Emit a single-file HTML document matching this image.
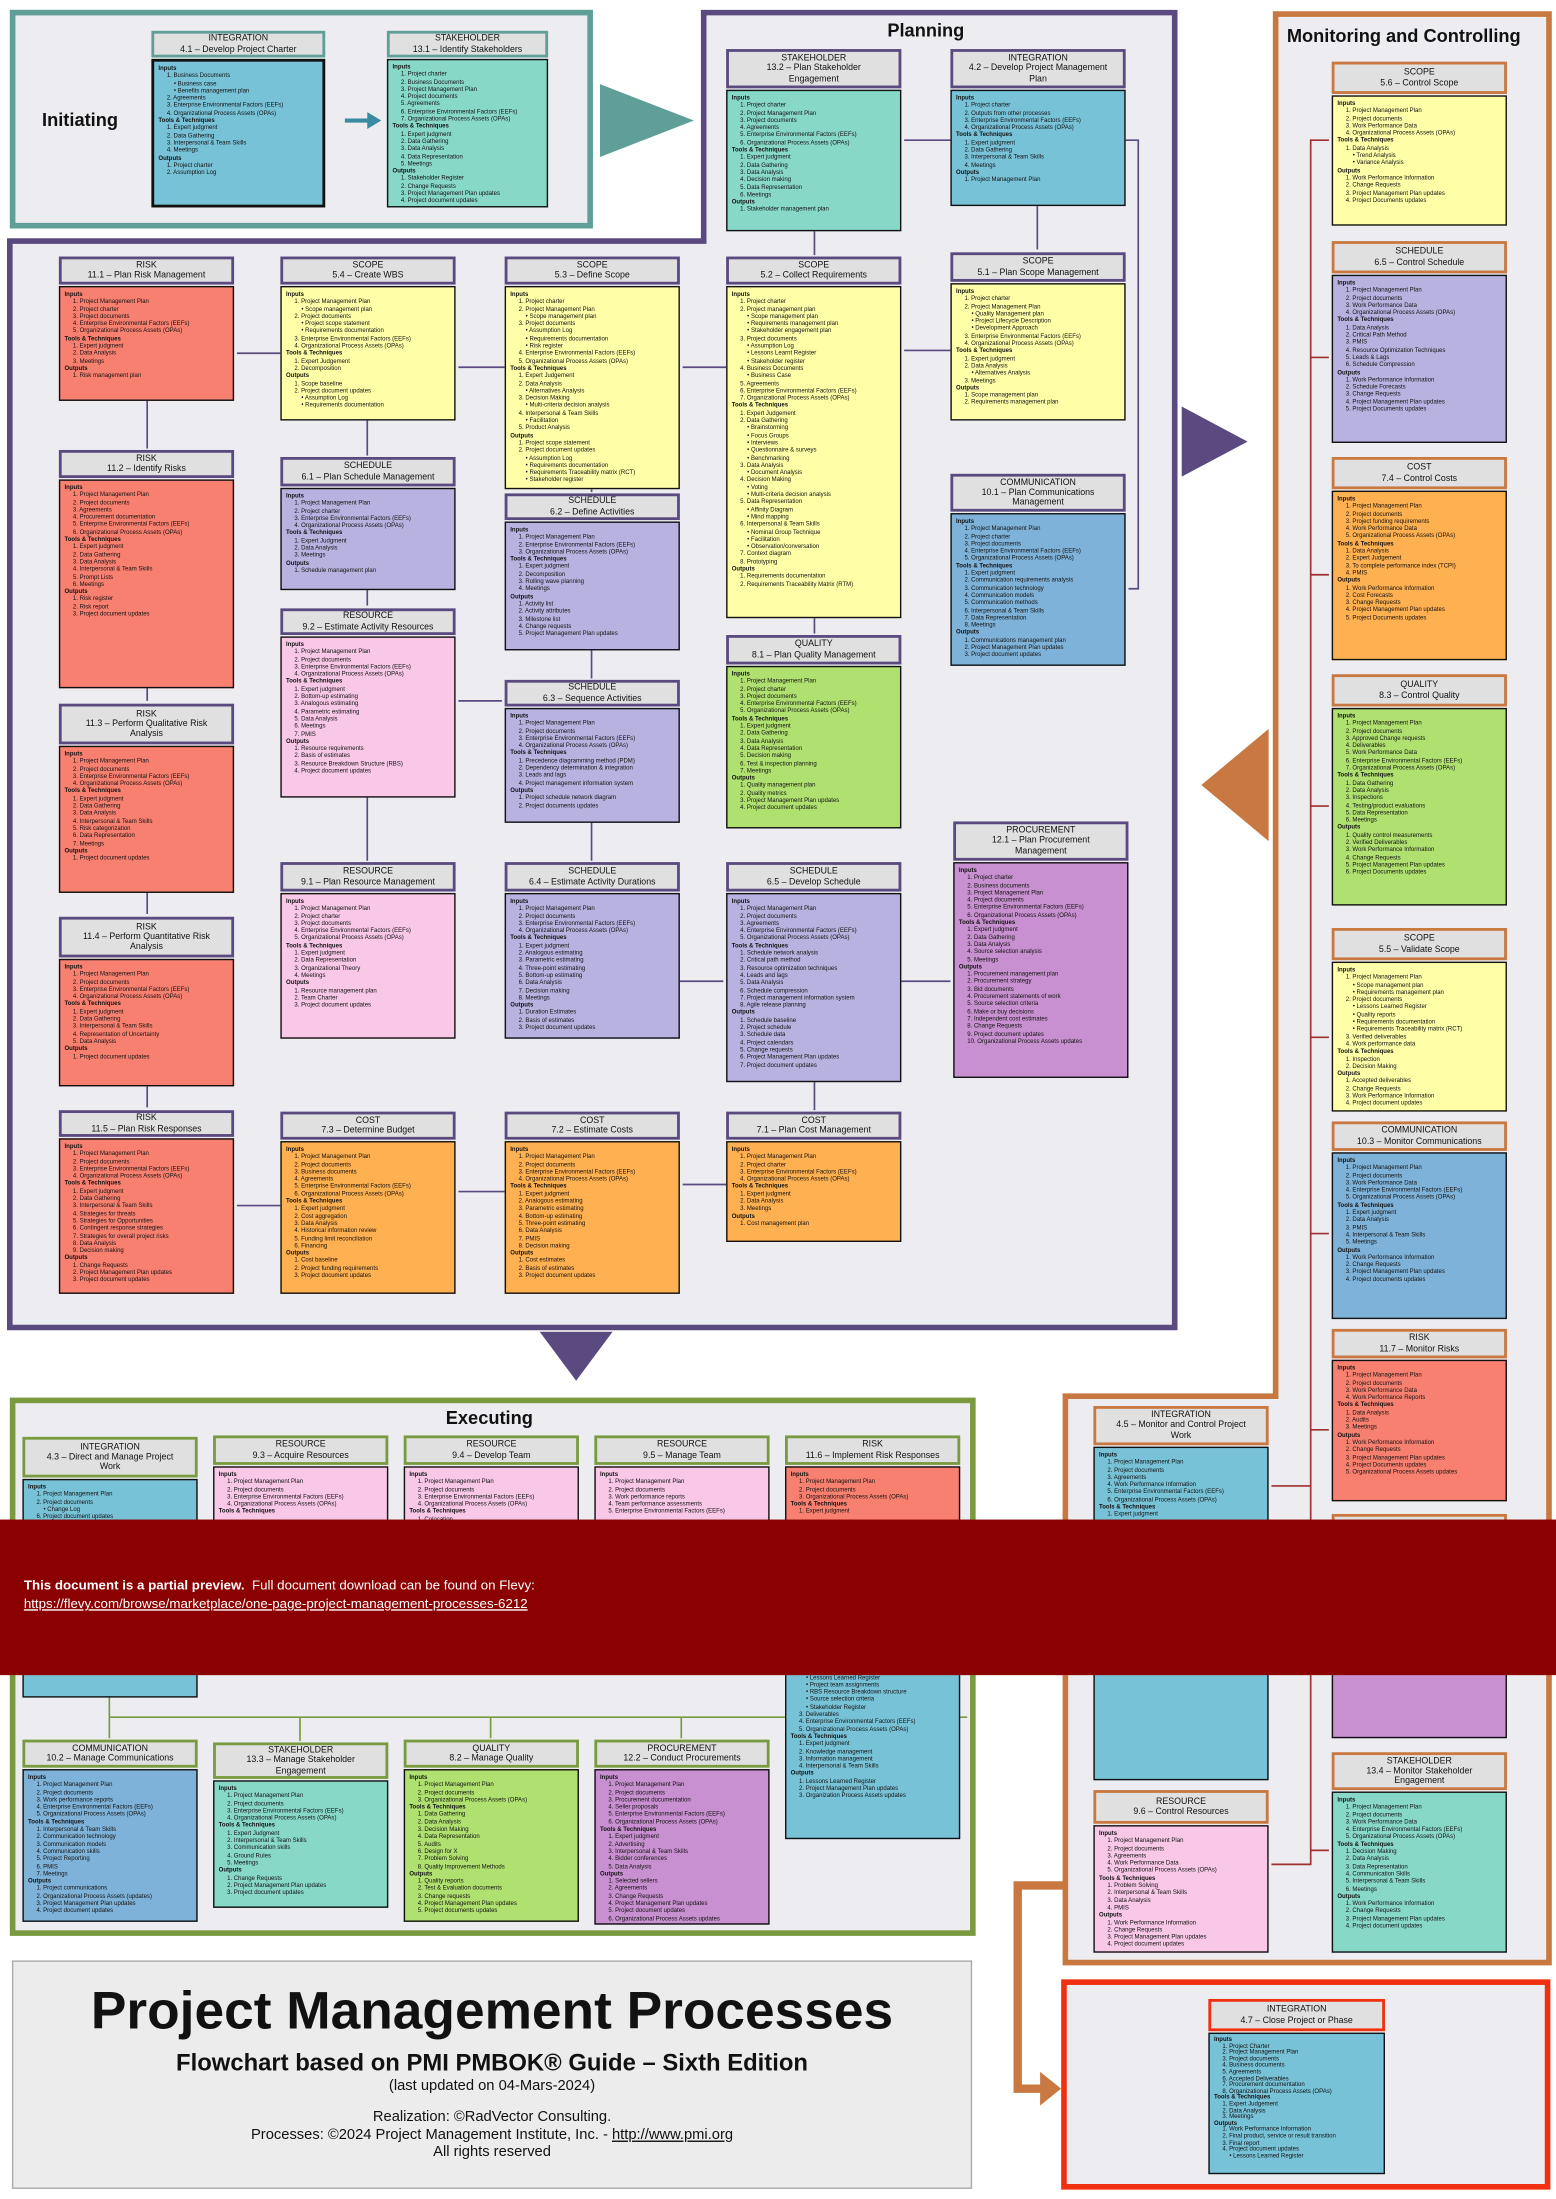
<!DOCTYPE html>
<html><head><meta charset="utf-8"><style>
*{box-sizing:border-box;margin:0;padding:0}
html,body{width:1556px;height:2199px;overflow:hidden;background:#fff}
#w{position:absolute;left:0;top:0;width:1110px;height:1569px;transform:scale(1.4018);transform-origin:0 0;font-family:"Liberation Sans",sans-serif;color:#111}
.a{position:absolute}
.sec{position:absolute;background:#ededf1}
.h{position:absolute;background:#e0e0e0;border:2.5px solid #5a4a80;text-align:center;font-size:6.3px;line-height:7.2px;display:flex;flex-direction:column;justify-content:center}
.hi{border-color:#5f9f98}.hm{border-color:#c87840}.he{border-color:#7a9a40}.hc{border-color:#f03010}
.b{position:absolute;border:1.6px solid #111;font-size:4.3px;line-height:5.3px;padding:2px 3px;overflow:hidden}
.b b{display:block;font-weight:bold}
.b i{display:block;font-style:normal;padding-left:6px}
.b u{display:block;text-decoration:none;padding-left:11px}
.Y{background:#ffffa8}.T{background:#88d8c8}.B{background:#78c2d8}.C{background:#7fb2d8}.O{background:#ffb050}.P{background:#b8b2e0}.R{background:#f88070}.G{background:#b0e070}.K{background:#f8c8e6}.V{background:#c890d0}
.ttl{position:absolute;font-weight:bold;font-size:13px}
svg{position:absolute;left:0;top:0}
</style></head><body><div id="w">

<!-- Initiating -->
<div class="sec" style="left:7px;top:7px;width:416px;height:156px;border:4px solid #5f9f98"></div>
<div class="ttl" style="left:30px;top:78px;font-size:13px">Initiating</div>
<div class="h hi" style="left:108px;top:22px;width:124px;height:19px">INTEGRATION<br>4.1 – Develop Project Charter</div>
<div class="b B" style="left:108px;top:42px;width:124px;height:106px;border-width:2px"><b>Inputs</b><i>1. Business Documents</i><u>• Business case</u><u>• Benefits management plan</u><i>2. Agreements</i><i>3. Enterprise Environmental Factors (EEFs)</i><i>4. Organizational Process Assets (OPAs)</i><b>Tools &amp; Techniques</b><i>1. Expert judgment</i><i>2. Data Gathering</i><i>3. Interpersonal &amp; Team Skills</i><i>4. Meetings</i><b>Outputs</b><i>1. Project charter</i><i>2. Assumption Log</i></div>
<div class="h hi" style="left:276px;top:22px;width:115px;height:19px">STAKEHOLDER<br>13.1 – Identify Stakeholders</div>
<div class="b T" style="left:276px;top:42px;width:115px;height:106px"><b>Inputs</b><i>1. Project charter</i><i>2. Business Documents</i><i>3. Project Management Plan</i><i>4. Project documents</i><i>5. Agreements</i><i>6. Enterprise Environmental Factors (EEFs)</i><i>7. Organizational Process Assets (OPAs)</i><b>Tools &amp; Techniques</b><i>1. Expert judgment</i><i>2. Data Gathering</i><i>3. Data Analysis</i><i>4. Data Representation</i><i>5. Meetings</i><b>Outputs</b><i>1. Stakeholder Register</i><i>2. Change Requests</i><i>3. Project Management Plan updates</i><i>4. Project document updates</i></div>

<!-- Planning -->
<svg width="1110" height="1569" style="z-index:0">
<polygon points="502,9 838,9 838,947 7,947 7,172 502,172" fill="#ededf1" stroke="#5a4a80" stroke-width="4"/>
<polygon points="910,10 1105,10 1105,1400 760,1400 760,996 910,996" fill="#ededf1" stroke="#c87840" stroke-width="4"/>
<rect x="9" y="999" width="685" height="380" fill="#ededf1" stroke="#7a9a40" stroke-width="4"/>
<rect x="9" y="1399" width="684" height="162" fill="#ececec" stroke="#aaa" stroke-width="1"/>
<rect x="759" y="1414" width="345" height="146" fill="#ededf1" stroke="#f03010" stroke-width="4"/>
<polygon points="428,60 495,86 428,112" fill="#5f9f98"/>
<polygon points="843,290 890,315 843,340" fill="#5a4a80"/>
<polygon points="385,950 437,950 411,985" fill="#5a4a80"/>
<polygon points="905,520 905,600 857,560" fill="#c87840"/>
<path d="M246,86 L264,86" stroke="#3a8aa0" stroke-width="3"/><polygon points="262,80 272,86 262,92" fill="#3a8aa0"/>
<path d="M760,1345 L726,1345 L726,1490 L745,1490" fill="none" stroke="#c87840" stroke-width="6"/><polygon points="742,1478 757,1490 742,1502" fill="#c87840"/>
<g stroke="#5a4a80" stroke-width="1.2" fill="none">
<path d="M581,165 V182"/><path d="M740,147 V178"/><path d="M678,100 H645"/><path d="M803,100 H812 V420 H805"/>
<path d="M678,250 H645"/><path d="M518,262 H487"/><path d="M360,262 H327"/><path d="M200,252 H169"/>
<path d="M105,286 V320"/><path d="M262,300 V325"/><path d="M581,440 V452"/>
<path d="M105,490 V500"/><path d="M105,636 V652"/><path d="M105,774 V790"/>
<path d="M262,420 V432"/><path d="M422,463 V484"/><path d="M422,586 V614"/><path d="M262,568 V614"/><path d="M485,700 H516"/>
<path d="M327,500 H358"/><path d="M581,771 V792"/><path d="M518,845 H487"/><path d="M360,850 H327"/><path d="M200,860 H169"/><path d="M643,700 H678"/><path d="M422,349 V351"/>
</g>
<g stroke="#7a9a40" stroke-width="1.2" fill="none"><path d="M78,1210 V1225 H690"/><path d="M78,1225 V1240"/><path d="M214,1225 V1242"/><path d="M350,1225 V1240"/><path d="M486,1225 V1240"/></g>
<g stroke="#a03030" stroke-width="1.2" fill="none"><path d="M948,100 H935 V1330 H907"/><path d="M935,255 H948"/><path d="M935,410 H948"/><path d="M935,575 H948"/><path d="M935,740 H948"/><path d="M935,880 H948"/><path d="M935,1020 H948"/><path d="M935,1320 H948"/><path d="M935,1060 H907"/></g>
</svg>
<div class="ttl" style="left:633px;top:14px">Planning</div>
<div class="ttl" style="left:918px;top:18px">Monitoring and Controlling</div>
<div class="ttl" style="left:318px;top:1004px">Executing</div>

<div class="h" style="left:518px;top:35px;width:125px;height:28px">STAKEHOLDER<br>13.2 – Plan Stakeholder<br>Engagement</div>
<div class="b T" style="left:518px;top:64px;width:125px;height:101px"><b>Inputs</b><i>1. Project charter</i><i>2. Project Management Plan</i><i>3. Project documents</i><i>4. Agreements</i><i>5. Enterprise Environmental Factors (EEFs)</i><i>6. Organizational Process Assets (OPAs)</i><b>Tools &amp; Techniques</b><i>1. Expert judgment</i><i>2. Data Gathering</i><i>3. Data Analysis</i><i>4. Decision making</i><i>5. Data Representation</i><i>6. Meetings</i><b>Outputs</b><i>1. Stakeholder management plan</i></div>
<div class="h" style="left:678px;top:35px;width:125px;height:28px">INTEGRATION<br>4.2 – Develop Project Management<br>Plan</div>
<div class="b B" style="left:678px;top:64px;width:125px;height:83px"><b>Inputs</b><i>1. Project charter</i><i>2. Outputs from other processes</i><i>3. Enterprise Environmental Factors (EEFs)</i><i>4. Organizational Process Assets (OPAs)</i><b>Tools &amp; Techniques</b><i>1. Expert judgment</i><i>2. Data Gathering</i><i>3. Interpersonal &amp; Team Skills</i><i>4. Meetings</i><b>Outputs</b><i>1. Project Management Plan</i></div>

<div class="h" style="left:42px;top:183px;width:125px;height:20px">RISK<br>11.1 – Plan Risk Management</div>
<div class="b R" style="left:42px;top:204px;width:125px;height:82px"><b>Inputs</b><i>1. Project Management Plan</i><i>2. Project charter</i><i>3. Project documents</i><i>4. Enterprise Environmental Factors (EEFs)</i><i>5. Organizational Process Assets (OPAs)</i><b>Tools &amp; Techniques</b><i>1. Expert judgment</i><i>2. Data Analysis</i><i>3. Meetings</i><b>Outputs</b><i>1. Risk management plan</i></div>
<div class="h" style="left:200px;top:183px;width:125px;height:20px">SCOPE<br>5.4 – Create WBS</div>
<div class="b Y" style="left:200px;top:204px;width:125px;height:96px"><b>Inputs</b><i>1. Project Management Plan</i><u>• Scope management plan</u><i>2. Project documents</i><u>• Project scope statement</u><u>• Requirements documentation</u><i>3. Enterprise Environmental Factors (EEFs)</i><i>4. Organizational Process Assets (OPAs)</i><b>Tools &amp; Techniques</b><i>1. Expert Judgement</i><i>2. Decomposition</i><b>Outputs</b><i>1. Scope baseline</i><i>2. Project document updates</i><u>• Assumption Log</u><u>• Requirements documentation</u></div>
<div class="h" style="left:360px;top:183px;width:125px;height:20px">SCOPE<br>5.3 – Define Scope</div>
<div class="b Y" style="left:360px;top:204px;width:125px;height:145px"><b>Inputs</b><i>1. Project charter</i><i>2. Project Management Plan</i><u>• Scope management plan</u><i>3. Project documents</i><u>• Assumption Log</u><u>• Requirements documentation</u><u>• Risk register</u><i>4. Enterprise Environmental Factors (EEFs)</i><i>5. Organizational Process Assets (OPAs)</i><b>Tools &amp; Techniques</b><i>1. Expert Judgement</i><i>2. Data Analysis</i><u>• Alternatives Analysis</u><i>3. Decision Making</i><u>• Multi-criteria decision analysis</u><i>4. Interpersonal &amp; Team Skills</i><u>• Facilitation</u><i>5. Product Analysis</i><b>Outputs</b><i>1. Project scope statement</i><i>2. Project document updates</i><u>• Assumption Log</u><u>• Requirements documentation</u><u>• Requirements Traceability matrix (RCT)</u><u>• Stakeholder register</u></div>
<div class="h" style="left:518px;top:183px;width:125px;height:20px">SCOPE<br>5.2 – Collect Requirements</div>
<div class="b Y" style="left:518px;top:204px;width:125px;height:237px"><b>Inputs</b><i>1. Project charter</i><i>2. Project management plan</i><u>• Scope management plan</u><u>• Requirements management plan</u><u>• Stakeholder engagement plan</u><i>3. Project documents</i><u>• Assumption Log</u><u>• Lessons Learnt Register</u><u>• Stakeholder register</u><i>4. Business Documents</i><u>• Business Case</u><i>5. Agreements</i><i>6. Enterprise Environmental Factors (EEFs)</i><i>7. Organizational Process Assets (OPAs)</i><b>Tools &amp; Techniques</b><i>1. Expert Judgement</i><i>2. Data Gathering</i><u>• Brainstorming</u><u>• Focus Groups</u><u>• Interviews</u><u>• Questionnaire &amp; surveys</u><u>• Benchmarking</u><i>3. Data Analysis</i><u>• Document Analysis</u><i>4. Decision Making</i><u>• Voting</u><u>• Multi-criteria decision analysis</u><i>5. Data Representation</i><u>• Affinity Diagram</u><u>• Mind mapping</u><i>6. Interpersonal &amp; Team Skills</i><u>• Nominal Group Technique</u><u>• Facilitation</u><u>• Observation/conversation</u><i>7. Context diagram</i><i>8. Prototyping</i><b>Outputs</b><i>1. Requirements documentation</i><i>2. Requirements Traceability Matrix (RTM)</i></div>
<div class="h" style="left:678px;top:180px;width:125px;height:21px">SCOPE<br>5.1 – Plan Scope Management</div>
<div class="b Y" style="left:678px;top:202px;width:125px;height:98px"><b>Inputs</b><i>1. Project charter</i><i>2. Project Management Plan</i><u>• Quality Management plan</u><u>• Project Lifecycle Description</u><u>• Development Approach</u><i>3. Enterprise Environmental Factors (EEFs)</i><i>4. Organizational Process Assets (OPAs)</i><b>Tools &amp; Techniques</b><i>1. Expert judgment</i><i>2. Data Analysis</i><u>• Alternatives Analysis</u><i>3. Meetings</i><b>Outputs</b><i>1. Scope management plan</i><i>2. Requirements management plan</i></div>

<div class="h" style="left:42px;top:321px;width:125px;height:20px">RISK<br>11.2 – Identify Risks</div>
<div class="b R" style="left:42px;top:342px;width:125px;height:149px"><b>Inputs</b><i>1. Project Management Plan</i><i>2. Project documents</i><i>3. Agreements</i><i>4. Procurement documentation</i><i>5. Enterprise Environmental Factors (EEFs)</i><i>6. Organizational Process Assets (OPAs)</i><b>Tools &amp; Techniques</b><i>1. Expert judgment</i><i>2. Data Gathering</i><i>3. Data Analysis</i><i>4. Interpersonal &amp; Team Skills</i><i>5. Prompt Lists</i><i>6. Meetings</i><b>Outputs</b><i>1. Risk register</i><i>2. Risk report</i><i>3. Project document updates</i></div>
<div class="h" style="left:200px;top:326px;width:125px;height:21px">SCHEDULE<br>6.1 – Plan Schedule Management</div>
<div class="b P" style="left:200px;top:348px;width:125px;height:73px"><b>Inputs</b><i>1. Project Management Plan</i><i>2. Project charter</i><i>3. Enterprise Environmental Factors (EEFs)</i><i>4. Organizational Process Assets (OPAs)</i><b>Tools &amp; Techniques</b><i>1. Expert Judgment</i><i>2. Data Analysis</i><i>3. Meetings</i><b>Outputs</b><i>1. Schedule management plan</i></div>
<div class="h" style="left:360px;top:352px;width:125px;height:19px">SCHEDULE<br>6.2 – Define Activities</div>
<div class="b P" style="left:360px;top:372px;width:125px;height:92px"><b>Inputs</b><i>1. Project Management Plan</i><i>2. Enterprise Environmental Factors (EEFs)</i><i>3. Organizational Process Assets (OPAs)</i><b>Tools &amp; Techniques</b><i>1. Expert judgment</i><i>2. Decomposition</i><i>3. Rolling wave planning</i><i>4. Meetings</i><b>Outputs</b><i>1. Activity list</i><i>2. Activity attributes</i><i>3. Milestone list</i><i>4. Change requests</i><i>5. Project Management Plan updates</i></div>
<div class="h" style="left:678px;top:338px;width:125px;height:27px">COMMUNICATION<br>10.1 – Plan Communications<br>Management</div>
<div class="b C" style="left:678px;top:366px;width:125px;height:109px"><b>Inputs</b><i>1. Project Management Plan</i><i>2. Project charter</i><i>3. Project documents</i><i>4. Enterprise Environmental Factors (EEFs)</i><i>5. Organizational Process Assets (OPAs)</i><b>Tools &amp; Techniques</b><i>1. Expert judgment</i><i>2. Communication requirements analysis</i><i>3. Communication technology</i><i>4. Communication models</i><i>5. Communication methods</i><i>6. Interpersonal &amp; Team Skills</i><i>7. Data Representation</i><i>8. Meetings</i><b>Outputs</b><i>1. Communications management plan</i><i>2. Project Management Plan updates</i><i>3. Project document updates</i></div>

<div class="h" style="left:200px;top:434px;width:125px;height:19px">RESOURCE<br>9.2 – Estimate Activity Resources</div>
<div class="b K" style="left:200px;top:454px;width:125px;height:115px"><b>Inputs</b><i>1. Project Management Plan</i><i>2. Project documents</i><i>3. Enterprise Environmental Factors (EEFs)</i><i>4. Organizational Process Assets (OPAs)</i><b>Tools &amp; Techniques</b><i>1. Expert judgment</i><i>2. Bottom-up estimating</i><i>3. Analogous estimating</i><i>4. Parametric estimating</i><i>5. Data Analysis</i><i>6. Meetings</i><i>7. PMIS</i><b>Outputs</b><i>1. Resource requirements</i><i>2. Basis of estimates</i><i>3. Resource Breakdown Structure (RBS)</i><i>4. Project document updates</i></div>
<div class="h" style="left:360px;top:485px;width:125px;height:19px">SCHEDULE<br>6.3 – Sequence Activities</div>
<div class="b P" style="left:360px;top:505px;width:125px;height:82px"><b>Inputs</b><i>1. Project Management Plan</i><i>2. Project documents</i><i>3. Enterprise Environmental Factors (EEFs)</i><i>4. Organizational Process Assets (OPAs)</i><b>Tools &amp; Techniques</b><i>1. Precedence diagramming method (PDM)</i><i>2. Dependency determination &amp; integration</i><i>3. Leads and lags</i><i>4. Project management information system</i><b>Outputs</b><i>1. Project schedule network diagram</i><i>2. Project documents updates</i></div>
<div class="h" style="left:518px;top:453px;width:125px;height:21px">QUALITY<br>8.1 – Plan Quality Management</div>
<div class="b G" style="left:518px;top:475px;width:125px;height:116px"><b>Inputs</b><i>1. Project Management Plan</i><i>2. Project charter</i><i>3. Project documents</i><i>4. Enterprise Environmental Factors (EEFs)</i><i>5. Organizational Process Assets (OPAs)</i><b>Tools &amp; Techniques</b><i>1. Expert judgment</i><i>2. Data Gathering</i><i>3. Data Analysis</i><i>4. Data Representation</i><i>5. Decision making</i><i>6. Test &amp; inspection planning</i><i>7. Meetings</i><b>Outputs</b><i>1. Quality management plan</i><i>2. Quality metrics</i><i>3. Project Management Plan updates</i><i>4. Project document updates</i></div>

<div class="h" style="left:42px;top:502px;width:125px;height:29px">RISK<br>11.3 – Perform Qualitative Risk<br>Analysis</div>
<div class="b R" style="left:42px;top:532px;width:125px;height:105px"><b>Inputs</b><i>1. Project Management Plan</i><i>2. Project documents</i><i>3. Enterprise Environmental Factors (EEFs)</i><i>4. Organizational Process Assets (OPAs)</i><b>Tools &amp; Techniques</b><i>1. Expert judgment</i><i>2. Data Gathering</i><i>3. Data Analysis</i><i>4. Interpersonal &amp; Team Skills</i><i>5. Risk categorization</i><i>6. Data Representation</i><i>7. Meetings</i><b>Outputs</b><i>1. Project document updates</i></div>
<div class="h" style="left:680px;top:586px;width:125px;height:28px">PROCUREMENT<br>12.1 – Plan Procurement<br>Management</div>
<div class="b V" style="left:680px;top:615px;width:125px;height:154px"><b>Inputs</b><i>1. Project charter</i><i>2. Business documents</i><i>3. Project Management Plan</i><i>4. Project documents</i><i>5. Enterprise Environmental Factors (EEFs)</i><i>6. Organizational Process Assets (OPAs)</i><b>Tools &amp; Techniques</b><i>1. Expert judgment</i><i>2. Data Gathering</i><i>3. Data Analysis</i><i>4. Source selection analysis</i><i>5. Meetings</i><b>Outputs</b><i>1. Procurement management plan</i><i>2. Procurement strategy</i><i>3. Bid documents</i><i>4. Procurement statements of work</i><i>5. Source selection criteria</i><i>6. Make or buy decisions</i><i>7. Independent cost estimates</i><i>8. Change Requests</i><i>9. Project document updates</i><i>10. Organizational Process Assets updates</i></div>
<div class="h" style="left:200px;top:615px;width:125px;height:21px">RESOURCE<br>9.1 – Plan Resource Management</div>
<div class="b K" style="left:200px;top:637px;width:125px;height:104px"><b>Inputs</b><i>1. Project Management Plan</i><i>2. Project charter</i><i>3. Project documents</i><i>4. Enterprise Environmental Factors (EEFs)</i><i>5. Organizational Process Assets (OPAs)</i><b>Tools &amp; Techniques</b><i>1. Expert judgment</i><i>2. Data Representation</i><i>3. Organizational Theory</i><i>4. Meetings</i><b>Outputs</b><i>1. Resource management plan</i><i>2. Team Charter</i><i>3. Project document updates</i></div>
<div class="h" style="left:360px;top:615px;width:125px;height:21px">SCHEDULE<br>6.4 – Estimate Activity Durations</div>
<div class="b P" style="left:360px;top:637px;width:125px;height:104px"><b>Inputs</b><i>1. Project Management Plan</i><i>2. Project documents</i><i>3. Enterprise Environmental Factors (EEFs)</i><i>4. Organizational Process Assets (OPAs)</i><b>Tools &amp; Techniques</b><i>1. Expert judgment</i><i>2. Analogous estimating</i><i>3. Parametric estimating</i><i>4. Three-point estimating</i><i>5. Bottom-up estimating</i><i>6. Data Analysis</i><i>7. Decision making</i><i>8. Meetings</i><b>Outputs</b><i>1. Duration Estimates</i><i>2. Basis of estimates</i><i>3. Project document updates</i></div>
<div class="h" style="left:518px;top:615px;width:125px;height:21px">SCHEDULE<br>6.5 – Develop Schedule</div>
<div class="b P" style="left:518px;top:637px;width:125px;height:135px"><b>Inputs</b><i>1. Project Management Plan</i><i>2. Project documents</i><i>3. Agreements</i><i>4. Enterprise Environmental Factors (EEFs)</i><i>5. Organizational Process Assets (OPAs)</i><b>Tools &amp; Techniques</b><i>1. Schedule network analysis</i><i>2. Critical path method</i><i>3. Resource optimization techniques</i><i>4. Leads and lags</i><i>5. Data Analysis</i><i>6. Schedule compression</i><i>7. Project management information system</i><i>8. Agile release planning</i><b>Outputs</b><i>1. Schedule baseline</i><i>2. Project schedule</i><i>3. Schedule data</i><i>4. Project calendars</i><i>5. Change requests</i><i>6. Project Management Plan updates</i><i>7. Project document updates</i></div>

<div class="h" style="left:42px;top:654px;width:125px;height:29px">RISK<br>11.4 – Perform Quantitative Risk<br>Analysis</div>
<div class="b R" style="left:42px;top:684px;width:125px;height:91px"><b>Inputs</b><i>1. Project Management Plan</i><i>2. Project documents</i><i>3. Enterprise Environmental Factors (EEFs)</i><i>4. Organizational Process Assets (OPAs)</i><b>Tools &amp; Techniques</b><i>1. Expert judgment</i><i>2. Data Gathering</i><i>3. Interpersonal &amp; Team Skills</i><i>4. Representation of Uncertainty</i><i>5. Data Analysis</i><b>Outputs</b><i>1. Project document updates</i></div>
<div class="h" style="left:42px;top:792px;width:125px;height:19px">RISK<br>11.5 – Plan Risk Responses</div>
<div class="b R" style="left:42px;top:812px;width:125px;height:111px"><b>Inputs</b><i>1. Project Management Plan</i><i>2. Project documents</i><i>3. Enterprise Environmental Factors (EEFs)</i><i>4. Organizational Process Assets (OPAs)</i><b>Tools &amp; Techniques</b><i>1. Expert judgment</i><i>2. Data Gathering</i><i>3. Interpersonal &amp; Team Skills</i><i>4. Strategies for threats</i><i>5. Strategies for Opportunities</i><i>6. Contingent response strategies</i><i>7. Strategies for overall project risks</i><i>8. Data Analysis</i><i>9. Decision making</i><b>Outputs</b><i>1. Change Requests</i><i>2. Project Management Plan updates</i><i>3. Project document updates</i></div>
<div class="h" style="left:200px;top:793px;width:125px;height:20px">COST<br>7.3 – Determine Budget</div>
<div class="b O" style="left:200px;top:814px;width:125px;height:109px"><b>Inputs</b><i>1. Project Management Plan</i><i>2. Project documents</i><i>3. Business documents</i><i>4. Agreements</i><i>5. Enterprise Environmental Factors (EEFs)</i><i>6. Organizational Process Assets (OPAs)</i><b>Tools &amp; Techniques</b><i>1. Expert judgment</i><i>2. Cost aggregation</i><i>3. Data Analysis</i><i>4. Historical information review</i><i>5. Funding limit reconciliation</i><i>6. Financing</i><b>Outputs</b><i>1. Cost baseline</i><i>2. Project funding requirements</i><i>3. Project document updates</i></div>
<div class="h" style="left:360px;top:793px;width:125px;height:20px">COST<br>7.2 – Estimate Costs</div>
<div class="b O" style="left:360px;top:814px;width:125px;height:109px"><b>Inputs</b><i>1. Project Management Plan</i><i>2. Project documents</i><i>3. Enterprise Environmental Factors (EEFs)</i><i>4. Organizational Process Assets (OPAs)</i><b>Tools &amp; Techniques</b><i>1. Expert judgment</i><i>2. Analogous estimating</i><i>3. Parametric estimating</i><i>4. Bottom-up estimating</i><i>5. Three-point estimating</i><i>6. Data Analysis</i><i>7. PMIS</i><i>8. Decision making</i><b>Outputs</b><i>1. Cost estimates</i><i>2. Basis of estimates</i><i>3. Project document updates</i></div>
<div class="h" style="left:518px;top:793px;width:125px;height:20px">COST<br>7.1 – Plan Cost Management</div>
<div class="b O" style="left:518px;top:814px;width:125px;height:72px"><b>Inputs</b><i>1. Project Management Plan</i><i>2. Project charter</i><i>3. Enterprise Environmental Factors (EEFs)</i><i>4. Organizational Process Assets (OPAs)</i><b>Tools &amp; Techniques</b><i>1. Expert judgment</i><i>2. Data Analysis</i><i>3. Meetings</i><b>Outputs</b><i>1. Cost management plan</i></div>

<!-- Monitoring -->
<div class="h hm" style="left:950px;top:44px;width:125px;height:23px">SCOPE<br>5.6 – Control Scope</div>
<div class="b Y" style="left:950px;top:68px;width:125px;height:93px"><b>Inputs</b><i>1. Project Management Plan</i><i>2. Project documents</i><i>3. Work Performance Data</i><i>4. Organizational Process Assets (OPAs)</i><b>Tools &amp; Techniques</b><i>1. Data Analysis</i><u>• Trend Analysis</u><u>• Variance Analysis</u><b>Outputs</b><i>1. Work Performance Information</i><i>2. Change Requests</i><i>3. Project Management Plan updates</i><i>4. Project Documents updates</i></div>
<div class="h hm" style="left:950px;top:172px;width:125px;height:23px">SCHEDULE<br>6.5 – Control Schedule</div>
<div class="b P" style="left:950px;top:196px;width:125px;height:120px"><b>Inputs</b><i>1. Project Management Plan</i><i>2. Project documents</i><i>3. Work Performance Data</i><i>4. Organizational Process Assets (OPAs)</i><b>Tools &amp; Techniques</b><i>1. Data Analysis</i><i>2. Critical Path Method</i><i>3. PMIS</i><i>4. Resource Optimization Techniques</i><i>5. Leads &amp; Lags</i><i>6. Schedule Compression</i><b>Outputs</b><i>1. Work Performance Information</i><i>2. Schedule Forecasts</i><i>3. Change Requests</i><i>4. Project Management Plan updates</i><i>5. Project Documents updates</i></div>
<div class="h hm" style="left:950px;top:326px;width:125px;height:23px">COST<br>7.4 – Control Costs</div>
<div class="b O" style="left:950px;top:350px;width:125px;height:121px"><b>Inputs</b><i>1. Project Management Plan</i><i>2. Project documents</i><i>3. Project funding requirements</i><i>4. Work Performance Data</i><i>5. Organizational Process Assets (OPAs)</i><b>Tools &amp; Techniques</b><i>1. Data Analysis</i><i>2. Expert Judgement</i><i>3. To complete performance index (TCPI)</i><i>4. PMIS</i><b>Outputs</b><i>1. Work Performance Information</i><i>2. Cost Forecasts</i><i>3. Change Requests</i><i>4. Project Management Plan updates</i><i>5. Project Documents updates</i></div>
<div class="h hm" style="left:950px;top:481px;width:125px;height:23px">QUALITY<br>8.3 – Control Quality</div>
<div class="b G" style="left:950px;top:505px;width:125px;height:141px"><b>Inputs</b><i>1. Project Management Plan</i><i>2. Project documents</i><i>3. Approved Change requests</i><i>4. Deliverables</i><i>5. Work Performance Data</i><i>6. Enterprise Environmental Factors (EEFs)</i><i>7. Organizational Process Assets (OPAs)</i><b>Tools &amp; Techniques</b><i>1. Data Gathering</i><i>2. Data Analysis</i><i>3. Inspections</i><i>4. Testing/product evaluations</i><i>5. Data Representation</i><i>6. Meetings</i><b>Outputs</b><i>1. Quality control measurements</i><i>2. Verified Deliverables</i><i>3. Work Performance Information</i><i>4. Change Requests</i><i>5. Project Management Plan updates</i><i>6. Project Documents updates</i></div>
<div class="h hm" style="left:950px;top:662px;width:125px;height:23px">SCOPE<br>5.5 – Validate Scope</div>
<div class="b Y" style="left:950px;top:686px;width:125px;height:107px"><b>Inputs</b><i>1. Project Management Plan</i><u>• Scope management plan</u><u>• Requirements management plan</u><i>2. Project documents</i><u>• Lessons Learned Register</u><u>• Quality reports</u><u>• Requirements documentation</u><u>• Requirements Traceability matrix (RCT)</u><i>3. Verified deliverables</i><i>4. Work performance data</i><b>Tools &amp; Techniques</b><i>1. Inspection</i><i>2. Decision Making</i><b>Outputs</b><i>1. Accepted deliverables</i><i>2. Change Requests</i><i>3. Work Performance Information</i><i>4. Project document updates</i></div>
<div class="h hm" style="left:950px;top:800px;width:125px;height:21px">COMMUNICATION<br>10.3 – Monitor Communications</div>
<div class="b C" style="left:950px;top:822px;width:125px;height:119px"><b>Inputs</b><i>1. Project Management Plan</i><i>2. Project documents</i><i>3. Work Performance Data</i><i>4. Enterprise Environmental Factors (EEFs)</i><i>5. Organizational Process Assets (OPAs)</i><b>Tools &amp; Techniques</b><i>1. Expert judgment</i><i>2. Data Analysis</i><i>3. PMIS</i><i>4. Interpersonal &amp; Team Skills</i><i>5. Meetings</i><b>Outputs</b><i>1. Work Performance Information</i><i>2. Change Requests</i><i>3. Project Management Plan updates</i><i>4. Project documents updates</i></div>
<div class="h hm" style="left:950px;top:948px;width:125px;height:21px">RISK<br>11.7 – Monitor Risks</div>
<div class="b R" style="left:950px;top:970px;width:125px;height:101px"><b>Inputs</b><i>1. Project Management Plan</i><i>2. Project documents</i><i>3. Work Performance Data</i><i>4. Work Performance Reports</i><b>Tools &amp; Techniques</b><i>1. Data Analysis</i><i>2. Audits</i><i>3. Meetings</i><b>Outputs</b><i>1. Work Performance Information</i><i>2. Change Requests</i><i>3. Project Management Plan updates</i><i>4. Project Documents updates</i><i>5. Organizational Process Assets updates</i></div>
<div class="h hm" style="left:950px;top:1080px;width:125px;height:23px">PROCUREMENT<br>12.3 – Control Procurements</div>
<div class="b V" style="left:950px;top:1104px;width:125px;height:136px"><b>Inputs</b><i>1. Project Management Plan</i><b>Outputs</b><i>1. Closed Procurements</i><i>2. Work Performance Information</i><i>3. Procurement documentation updates</i><i>4. Change Requests</i><i>5. Project Management Plan updates</i><i>6. Project document updates</i><i>7. Organizational Process Assets updates</i></div>
<div class="h hm" style="left:950px;top:1250px;width:125px;height:27px">STAKEHOLDER<br>13.4 – Monitor Stakeholder<br>Engagement</div>
<div class="b T" style="left:950px;top:1278px;width:125px;height:115px"><b>Inputs</b><i>1. Project Management Plan</i><i>2. Project documents</i><i>3. Work Performance Data</i><i>4. Enterprise Environmental Factors (EEFs)</i><i>5. Organizational Process Assets (OPAs)</i><b>Tools &amp; Techniques</b><i>1. Decision Making</i><i>2. Data Analysis</i><i>3. Data Representation</i><i>4. Communication Skills</i><i>5. Interpersonal &amp; Team Skills</i><i>6. Meetings</i><b>Outputs</b><i>1. Work Performance Information</i><i>2. Change Requests</i><i>3. Project Management Plan updates</i><i>4. Project document updates</i></div>
<div class="h hm" style="left:780px;top:1003px;width:125px;height:28px">INTEGRATION<br>4.5 – Monitor and Control Project<br>Work</div>
<div class="b B" style="left:780px;top:1032px;width:125px;height:238px"><b>Inputs</b><i>1. Project Management Plan</i><i>2. Project documents</i><i>3. Agreements</i><i>4. Work Performance Information</i><i>5. Enterprise Environmental Factors (EEFs)</i><i>6. Organizational Process Assets (OPAs)</i><b>Tools &amp; Techniques</b><i>1. Expert judgment</i><i>2. Data Analysis</i><i>3. Decision Making</i><i>4. Meetings</i><b>Outputs</b><i>1. Work Performance Reports</i><i>2. Change Requests</i><i>3. Project Management Plan updates</i><i>4. Project document updates</i><i>4. Work Performance Information</i><i>5. Enterprise Environmental Factors (EEFs)</i><i>6. Organizational Process Assets (OPAs)</i><b>Tools &amp; Techniques</b><i>1. Expert judgment</i><i>2. Change Control tools</i><i>3. Decision Making</i><i>4. Data Analysis</i><i>5. Meetings</i><b>Outputs</b><i>1. Approved Change Requests</i><i>2. Project Management Plan updates</i><i>3. Project document updates</i></div>
<div class="h hm" style="left:780px;top:1277px;width:125px;height:24px">RESOURCE<br>9.6 – Control Resources</div>
<div class="b K" style="left:780px;top:1302px;width:125px;height:91px"><b>Inputs</b><i>1. Project Management Plan</i><i>2. Project documents</i><i>3. Agreements</i><i>4. Work Performance Data</i><i>5. Organizational Process Assets (OPAs)</i><b>Tools &amp; Techniques</b><i>1. Problem Solving</i><i>2. Interpersonal &amp; Team Skills</i><i>3. Data Analysis</i><i>4. PMIS</i><b>Outputs</b><i>1. Work Performance Information</i><i>2. Change Requests</i><i>3. Project Management Plan updates</i><i>4. Project document updates</i></div>

<!-- Executing -->
<div class="h he" style="left:16px;top:1025px;width:125px;height:29px">INTEGRATION<br>4.3 – Direct and Manage Project<br>Work</div>
<div class="b B" style="left:16px;top:1055px;width:125px;height:156px"><b>Inputs</b><i>1. Project Management Plan</i><i>2. Project documents</i><u>• Change Log</u><i>6. Project document updates</i><i>7. Organization Process Assets updates</i></div>
<div class="h he" style="left:152px;top:1024px;width:125px;height:21px">RESOURCE<br>9.3 – Acquire Resources</div>
<div class="b K" style="left:152px;top:1046px;width:125px;height:60px"><b>Inputs</b><i>1. Project Management Plan</i><i>2. Project documents</i><i>3. Enterprise Environmental Factors (EEFs)</i><i>4. Organizational Process Assets (OPAs)</i><b>Tools &amp; Techniques</b></div>
<div class="h he" style="left:288px;top:1024px;width:125px;height:21px">RESOURCE<br>9.4 – Develop Team</div>
<div class="b K" style="left:288px;top:1046px;width:125px;height:60px"><b>Inputs</b><i>1. Project Management Plan</i><i>2. Project documents</i><i>3. Enterprise Environmental Factors (EEFs)</i><i>4. Organizational Process Assets (OPAs)</i><b>Tools &amp; Techniques</b><i>1. Colocation</i></div>
<div class="h he" style="left:424px;top:1024px;width:125px;height:21px">RESOURCE<br>9.5 – Manage Team</div>
<div class="b K" style="left:424px;top:1046px;width:125px;height:60px"><b>Inputs</b><i>1. Project Management Plan</i><i>2. Project documents</i><i>3. Work performance reports</i><i>4. Team performance assessments</i><i>5. Enterprise Environmental Factors (EEFs)</i></div>
<div class="h he" style="left:560px;top:1024px;width:125px;height:21px">RISK<br>11.6 – Implement Risk Responses</div>
<div class="b R" style="left:560px;top:1046px;width:125px;height:60px"><b>Inputs</b><i>1. Project Management Plan</i><i>2. Project documents</i><i>3. Organizational Process Assets (OPAs)</i><b>Tools &amp; Techniques</b><i>1. Expert judgment</i></div>
<div class="b B" style="left:560px;top:1180px;width:125px;height:132px"><i>1. Project Management Plan</i><i>2. Project documents</i><u>• Lessons Learned Register</u><u>• Project team assignments</u><u>• RBS Resource Breakdown structure</u><u>• Source selection criteria</u><u>• Stakeholder Register</u><i>3. Deliverables</i><i>4. Enterprise Environmental Factors (EEFs)</i><i>5. Organizational Process Assets (OPAs)</i><b>Tools &amp; Techniques</b><i>1. Expert judgment</i><i>2. Knowledge management</i><i>3. Information management</i><i>4. Interpersonal &amp; Team Skills</i><b>Outputs</b><i>1. Lessons Learned Register</i><i>2. Project Management Plan updates</i><i>3. Organization Process Assets updates</i></div>
<div class="h he" style="left:16px;top:1241px;width:125px;height:20px">COMMUNICATION<br>10.2 – Manage Communications</div>
<div class="b C" style="left:16px;top:1262px;width:125px;height:109px"><b>Inputs</b><i>1. Project Management Plan</i><i>2. Project documents</i><i>3. Work performance reports</i><i>4. Enterprise Environmental Factors (EEFs)</i><i>5. Organizational Process Assets (OPAs)</i><b>Tools &amp; Techniques</b><i>1. Interpersonal &amp; Team Skills</i><i>2. Communication technology</i><i>3. Communication models</i><i>4. Communication skills</i><i>5. Project Reporting</i><i>6. PMIS</i><i>7. Meetings</i><b>Outputs</b><i>1. Project communications</i><i>2. Organizational Process Assets (updates)</i><i>3. Project Management Plan updates</i><i>4. Project document updates</i></div>
<div class="h he" style="left:152px;top:1243px;width:125px;height:26px">STAKEHOLDER<br>13.3 – Manage Stakeholder<br>Engagement</div>
<div class="b T" style="left:152px;top:1270px;width:125px;height:91px"><b>Inputs</b><i>1. Project Management Plan</i><i>2. Project documents</i><i>3. Enterprise Environmental Factors (EEFs)</i><i>4. Organizational Process Assets (OPAs)</i><b>Tools &amp; Techniques</b><i>1. Expert Judgment</i><i>2. Interpersonal &amp; Team Skills</i><i>3. Communication skills</i><i>4. Ground Rules</i><i>5. Meetings</i><b>Outputs</b><i>1. Change Requests</i><i>2. Project Management Plan updates</i><i>3. Project document updates</i></div>
<div class="h he" style="left:288px;top:1241px;width:125px;height:20px">QUALITY<br>8.2 – Manage Quality</div>
<div class="b G" style="left:288px;top:1262px;width:125px;height:109px"><b>Inputs</b><i>1. Project Management Plan</i><i>2. Project documents</i><i>3. Organizational Process Assets (OPAs)</i><b>Tools &amp; Techniques</b><i>1. Data Gathering</i><i>2. Data Analysis</i><i>3. Decision Making</i><i>4. Data Representation</i><i>5. Audits</i><i>6. Design for X</i><i>7. Problem Solving</i><i>8. Quality Improvement Methods</i><b>Outputs</b><i>1. Quality reports</i><i>2. Test &amp; Evaluation documents</i><i>3. Change requests</i><i>4. Project Management Plan updates</i><i>5. Project documents updates</i></div>
<div class="h he" style="left:424px;top:1241px;width:125px;height:20px">PROCUREMENT<br>12.2 – Conduct Procurements</div>
<div class="b V" style="left:424px;top:1262px;width:125px;height:111px"><b>Inputs</b><i>1. Project Management Plan</i><i>2. Project documents</i><i>3. Procurement documentation</i><i>4. Seller proposals</i><i>5. Enterprise Environmental Factors (EEFs)</i><i>6. Organizational Process Assets (OPAs)</i><b>Tools &amp; Techniques</b><i>1. Expert judgment</i><i>2. Advertising</i><i>3. Interpersonal &amp; Team Skills</i><i>4. Bidder conferences</i><i>5. Data Analysis</i><b>Outputs</b><i>1. Selected sellers</i><i>2. Agreements</i><i>3. Change Requests</i><i>4. Project Management Plan updates</i><i>5. Project document updates</i><i>6. Organizational Process Assets updates</i></div>

<!-- Close -->
<div class="h hc" style="left:862px;top:1426px;width:126px;height:23px">INTEGRATION<br>4.7 – Close Project or Phase</div>
<div class="b B" style="left:862px;top:1450px;width:126px;height:101px;line-height:4.6px"><b>Inputs</b><i>1. Project Charter</i><i>2. Project Management Plan</i><i>3. Project documents</i><i>4. Business documents</i><i>5. Agreements</i><i>6. Accepted Deliverables</i><i>7. Procurement documentation</i><i>8. Organizational Process Assets (OPAs)</i><b>Tools &amp; Techniques</b><i>1. Expert Judgement</i><i>2. Data Analysis</i><i>3. Meetings</i><b>Outputs</b><i>1. Work Performance Information</i><i>2. Final product, service or result transition</i><i>3. Final report</i><i>4. Project document updates</i><u>• Lessons Learned Register</u></div>

<!-- Title -->
<div class="a" style="left:9px;top:1413px;width:684px;text-align:center;font-weight:bold;font-size:38px;line-height:44px">Project Management Processes</div>
<div class="a" style="left:9px;top:1462px;width:684px;text-align:center;font-weight:bold;font-size:17px">Flowchart based on PMI PMBOK® Guide – Sixth Edition</div>
<div class="a" style="left:9px;top:1482px;width:684px;text-align:center;font-size:10.5px">(last updated on 04-Mars-2024)</div>
<div class="a" style="left:9px;top:1504px;width:684px;text-align:center;font-size:10.5px;line-height:12.5px">Realization: ©RadVector Consulting.<br>Processes: ©2024 Project Management Institute, Inc. - <u>http://www.pmi.org</u><br>All rights reserved</div>

<!-- Banner -->
<div class="a" style="left:0;top:1084px;width:1110px;height:111px;background:#8b0000;color:#fff;font-size:9.5px;padding:41px 0 0 17px;line-height:13px"><b>This document is a partial preview.</b>&nbsp; Full document download can be found on Flevy:<br><u>https://flevy.com/browse/marketplace/one-page-project-management-processes-6212</u></div>
</div></body></html>
